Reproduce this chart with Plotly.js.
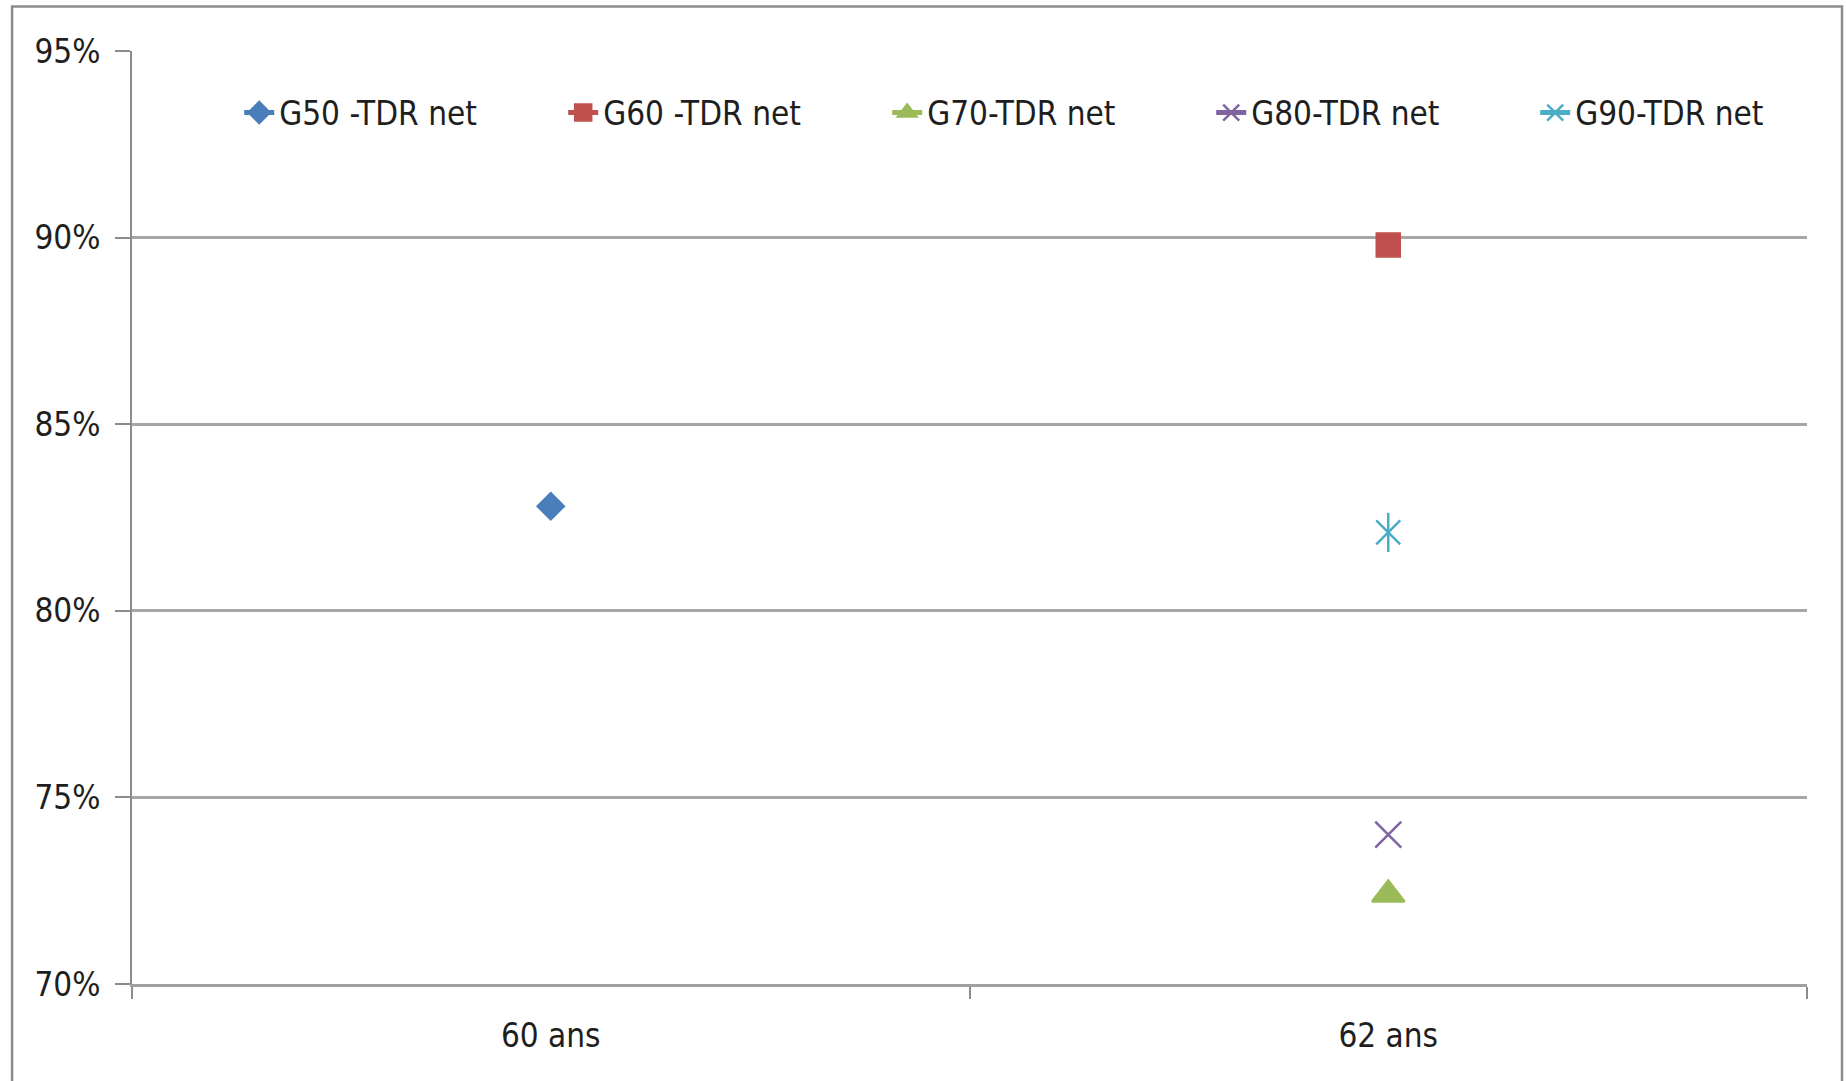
<!DOCTYPE html>
<html>
<head>
<meta charset="utf-8">
<script src="https://cdn.plot.ly/plotly-3.0.1.min.js"></script>
<style>
  html, body { margin: 0; padding: 0; background: #ffffff; }
  #chart { width: 1846px; height: 1081px; }
</style>
</head>
<body>
<div id="chart"></div>
<script>
// Categories and series values (percent)
const categories = ['60 ans', '62 ans'];
const seriesNames = ['G50 -TDR net', 'G60 -TDR net', 'G70-TDR net', 'G80-TDR net', 'G90-TDR net'];
const g50 = [82.8, null];
const g60 = [null, 89.8];
const g70 = [null, 72.4];
const g80 = [null, 74.0];
const g90 = [null, 82.1];
const yTicks = [70, 75, 80, 85, 90, 95];
const yTickText = yTicks.map(v => v + '%');

const FONT = '"DejaVu Sans Condensed", "Liberation Sans Narrow", "DejaVu Sans", sans-serif';
const TEXT = '#1e1e1e';
const FS = 33;

function mk(name, y, color, symbol, size, extra) {
  const t = {
    type: 'scatter',
    mode: 'lines+markers',
    name: name,
    x: categories,
    y: y,
    line: { color: color, width: 5 },
    marker: { color: color, symbol: symbol, size: size, line: { color: color, width: 2.5 } },
    connectgaps: false,
    hoverinfo: 'x+y+name'
  };
  return Object.assign(t, extra || {});
}

const traces = [
  mk(seriesNames[0], g50, '#4A7EBB', 'diamond', 20),
  mk(seriesNames[1], g60, '#C0504D', 'square', 23),
  mk(seriesNames[2], g70, '#9BBB59', 'triangle-up', 28),
  mk(seriesNames[3], g80, '#8064A2', 'x-thin-open', 26),
  mk(seriesNames[4], g90, '#4BACC6', 'x-thin-open', 24, { legendwidth: 200 }),
  // vertical stroke of the G90 star marker (same data point)
  mk(seriesNames[4], g90, '#4BACC6', 'line-ns-open', 28, { showlegend: false, mode: 'markers' })
];

const layout = {
  width: 1846,
  height: 1081,
  paper_bgcolor: '#ffffff',
  plot_bgcolor: '#ffffff',
  margin: { l: 132, r: 39, t: 51, b: 97, pad: 0 },
  font: { family: FONT, size: FS, color: TEXT },
  showlegend: true,
  legend: {
    orientation: 'h',
    x: 0.064,
    xanchor: 'left',
    y: 0.934,
    yanchor: 'middle',
    bgcolor: 'rgba(0,0,0,0)',
    font: { family: FONT, size: FS, color: TEXT },
    entrywidth: 279,
    entrywidthmode: 'pixels',
    traceorder: 'normal'
  },
  xaxis: {
    type: 'category',
    range: [-0.5, 1.5],
    tickson: 'boundaries',
    ticks: 'outside',
    ticklen: 12,
    tickwidth: 2,
    tickcolor: '#8c8c8c',
    showline: true,
    linecolor: '#a0a0a0',
    linewidth: 3,
    showgrid: false,
    zeroline: false,
    ticklabelstandoff: 20,
    tickfont: { family: FONT, size: FS, color: TEXT },
    fixedrange: true
  },
  yaxis: {
    range: [70, 95],
    tickmode: 'array',
    tickvals: yTicks,
    ticktext: yTickText,
    ticks: 'outside',
    ticklen: 15,
    tickwidth: 2,
    tickcolor: '#8c8c8c',
    showline: true,
    linecolor: '#8c8c8c',
    linewidth: 2,
    showgrid: true,
    gridcolor: '#a6a6a6',
    gridwidth: 2.5,
    zeroline: false,
    ticklabelstandoff: 8,
    tickfont: { family: FONT, size: FS, color: TEXT },
    fixedrange: true
  },
  shapes: [
    {
      type: 'rect', xref: 'paper', yref: 'paper',
      x0: -0.0716, x1: 1.0209, y0: -0.2, y1: 1.0478,
      line: { color: '#8c8c8c', width: 2.5 },
      fillcolor: 'rgba(0,0,0,0)',
      layer: 'below'
    }
  ]
};

Plotly.newPlot('chart', traces, layout, { displayModeBar: false, staticPlot: false });
</script>
</body>
</html>
